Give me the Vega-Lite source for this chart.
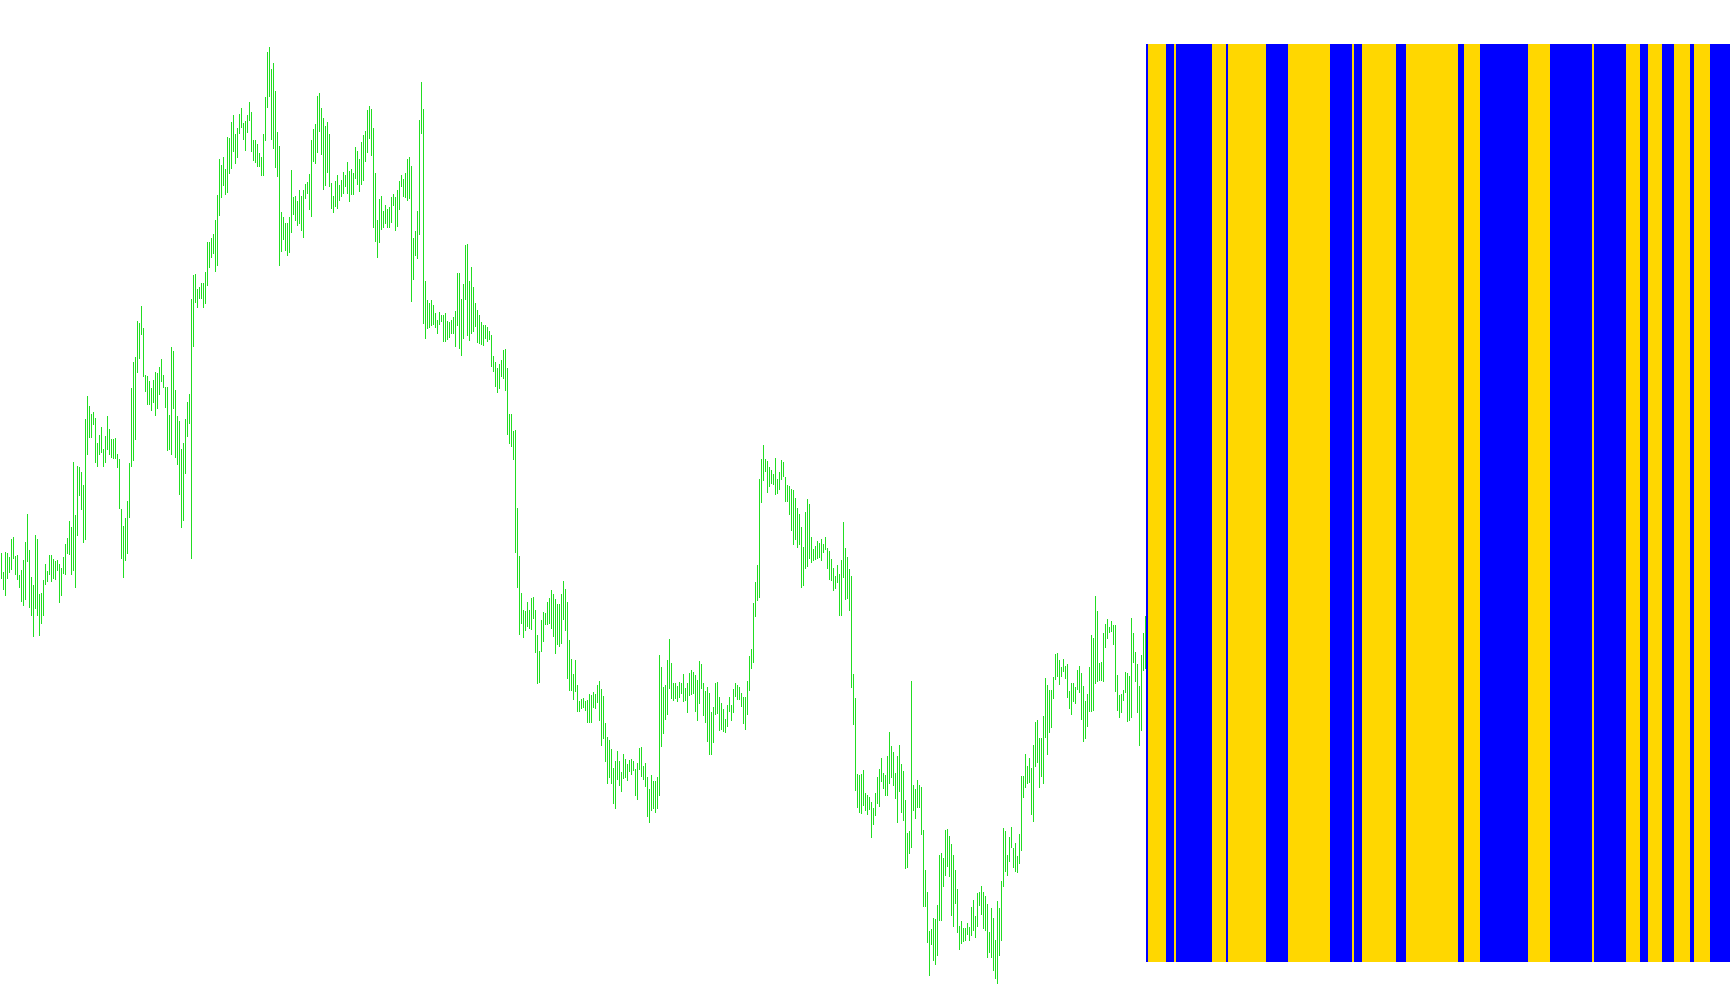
{
"$schema": "https://vega.github.io/schema/vega-lite/v6.json",
"width": 1730, "height": 1005, "padding": 0, "autosize": {"type": "none"},
"background": "white",
"config": {"view": {"stroke": null}},
"resolve": {"scale": {"x": "independent"}},
"datasets": {
"bars": [
{"i":0,"h":1.0452,"l":1.0426},{"i":1,"h":1.0433,"l":1.0415},{"i":2,"h":1.0453,"l":1.0409},{"i":3,"h":1.0452,"l":1.0426},{"i":4,"h":1.0448,"l":1.0432},{"i":5,"h":1.0466,"l":1.0435},{"i":6,"h":1.0468,"l":1.0446},{"i":7,"h":1.0449,"l":1.0430},{"i":8,"h":1.0450,"l":1.0425},{"i":9,"h":1.0430,"l":1.0417},
{"i":10,"h":1.0435,"l":1.0403},{"i":11,"h":1.0445,"l":1.0399},{"i":12,"h":1.0463,"l":1.0405},{"i":13,"h":1.0491,"l":1.0443},{"i":14,"h":1.0455,"l":1.0397},{"i":15,"h":1.0428,"l":1.0389},{"i":16,"h":1.0420,"l":1.0368},{"i":17,"h":1.0470,"l":1.0396},{"i":18,"h":1.0466,"l":1.0389},{"i":19,"h":1.0411,"l":1.0369},
{"i":20,"h":1.0412,"l":1.0381},{"i":21,"h":1.0425,"l":1.0389},{"i":22,"h":1.0441,"l":1.0420},{"i":23,"h":1.0434,"l":1.0423},{"i":24,"h":1.0450,"l":1.0430},{"i":25,"h":1.0450,"l":1.0423},{"i":26,"h":1.0446,"l":1.0426},{"i":27,"h":1.0444,"l":1.0425},{"i":28,"h":1.0445,"l":1.0434},{"i":29,"h":1.0441,"l":1.0402},
{"i":30,"h":1.0437,"l":1.0409},{"i":31,"h":1.0448,"l":1.0431},{"i":32,"h":1.0461,"l":1.0430},{"i":33,"h":1.0467,"l":1.0451},{"i":34,"h":1.0484,"l":1.0450},{"i":35,"h":1.0478,"l":1.0430},{"i":36,"h":1.0543,"l":1.0434},{"i":37,"h":1.0490,"l":1.0417},{"i":38,"h":1.0539,"l":1.0469},{"i":39,"h":1.0538,"l":1.0509},
{"i":40,"h":1.0533,"l":1.0495},{"i":41,"h":1.0520,"l":1.0462},{"i":42,"h":1.0586,"l":1.0465},{"i":43,"h":1.0609,"l":1.0550},{"i":44,"h":1.0599,"l":1.0567},{"i":45,"h":1.0591,"l":1.0567},{"i":46,"h":1.0593,"l":1.0580},{"i":47,"h":1.0587,"l":1.0542},{"i":48,"h":1.0562,"l":1.0538},{"i":49,"h":1.0570,"l":1.0550},
{"i":50,"h":1.0578,"l":1.0552},{"i":51,"h":1.0556,"l":1.0538},{"i":52,"h":1.0569,"l":1.0542},{"i":53,"h":1.0589,"l":1.0555},{"i":54,"h":1.0576,"l":1.0550},{"i":55,"h":1.0566,"l":1.0547},{"i":56,"h":1.0566,"l":1.0546},{"i":57,"h":1.0567,"l":1.0546},{"i":58,"h":1.0551,"l":1.0537},{"i":59,"h":1.0546,"l":1.0496},
{"i":60,"h":1.0496,"l":1.0446},{"i":61,"h":1.0479,"l":1.0427},{"i":62,"h":1.0487,"l":1.0444},{"i":63,"h":1.0504,"l":1.0451},{"i":64,"h":1.0542,"l":1.0487},{"i":65,"h":1.0617,"l":1.0538},{"i":66,"h":1.0643,"l":1.0544},{"i":67,"h":1.0648,"l":1.0565},{"i":68,"h":1.0684,"l":1.0632},{"i":69,"h":1.0682,"l":1.0646},
{"i":70,"h":1.0699,"l":1.0670},{"i":71,"h":1.0677,"l":1.0628},{"i":72,"h":1.0630,"l":1.0613},{"i":73,"h":1.0629,"l":1.0600},{"i":74,"h":1.0624,"l":1.0600},{"i":75,"h":1.0617,"l":1.0594},{"i":76,"h":1.0625,"l":1.0602},{"i":77,"h":1.0633,"l":1.0589},{"i":78,"h":1.0632,"l":1.0596},{"i":79,"h":1.0638,"l":1.0610},
{"i":80,"h":1.0646,"l":1.0623},{"i":81,"h":1.0630,"l":1.0617},{"i":82,"h":1.0618,"l":1.0597},{"i":83,"h":1.0618,"l":1.0554},{"i":84,"h":1.0590,"l":1.0555},{"i":85,"h":1.0658,"l":1.0550},{"i":86,"h":1.0654,"l":1.0596},{"i":87,"h":1.0615,"l":1.0547},{"i":88,"h":1.0589,"l":1.0540},{"i":89,"h":1.0584,"l":1.0510},
{"i":90,"h":1.0556,"l":1.0477},{"i":91,"h":1.0562,"l":1.0484},{"i":92,"h":1.0586,"l":1.0531},{"i":93,"h":1.0603,"l":1.0568},{"i":94,"h":1.0611,"l":1.0581},{"i":95,"h":1.0706,"l":1.0446},{"i":96,"h":1.0730,"l":1.0658},{"i":97,"h":1.0731,"l":1.0702},{"i":98,"h":1.0716,"l":1.0697},{"i":99,"h":1.0718,"l":1.0706},
{"i":100,"h":1.0722,"l":1.0706},{"i":101,"h":1.0722,"l":1.0697},{"i":102,"h":1.0733,"l":1.0701},{"i":103,"h":1.0763,"l":1.0719},{"i":104,"h":1.0763,"l":1.0737},{"i":105,"h":1.0767,"l":1.0747},{"i":106,"h":1.0771,"l":1.0751},{"i":107,"h":1.0785,"l":1.0733},{"i":108,"h":1.0810,"l":1.0739},{"i":109,"h":1.0846,"l":1.0789},
{"i":110,"h":1.0840,"l":1.0807},{"i":111,"h":1.0848,"l":1.0819},{"i":112,"h":1.0836,"l":1.0810},{"i":113,"h":1.0868,"l":1.0812},{"i":114,"h":1.0867,"l":1.0831},{"i":115,"h":1.0883,"l":1.0836},{"i":116,"h":1.0890,"l":1.0853},{"i":117,"h":1.0871,"l":1.0841},{"i":118,"h":1.0877,"l":1.0847},{"i":119,"h":1.0891,"l":1.0871},
{"i":120,"h":1.0897,"l":1.0877},{"i":121,"h":1.0882,"l":1.0865},{"i":122,"h":1.0884,"l":1.0854},{"i":123,"h":1.0890,"l":1.0872},{"i":124,"h":1.0903,"l":1.0884},{"i":125,"h":1.0893,"l":1.0853},{"i":126,"h":1.0865,"l":1.0844},{"i":127,"h":1.0865,"l":1.0842},{"i":128,"h":1.0861,"l":1.0838},{"i":129,"h":1.0852,"l":1.0838},
{"i":130,"h":1.0848,"l":1.0829},{"i":131,"h":1.0871,"l":1.0829},{"i":132,"h":1.0908,"l":1.0864},{"i":133,"h":1.0953,"l":1.0897},{"i":134,"h":1.0958,"l":1.0908},{"i":135,"h":1.0936,"l":1.0865},{"i":136,"h":1.0942,"l":1.0856},{"i":137,"h":1.0914,"l":1.0837},{"i":138,"h":1.0873,"l":1.0828},{"i":139,"h":1.0859,"l":1.0739},
{"i":140,"h":1.0793,"l":1.0753},{"i":141,"h":1.0788,"l":1.0765},{"i":142,"h":1.0782,"l":1.0754},{"i":143,"h":1.0782,"l":1.0749},{"i":144,"h":1.0788,"l":1.0752},{"i":145,"h":1.0835,"l":1.0772},{"i":146,"h":1.0808,"l":1.0790},{"i":147,"h":1.0809,"l":1.0784},{"i":148,"h":1.0804,"l":1.0779},{"i":149,"h":1.0815,"l":1.0781},
{"i":150,"h":1.0809,"l":1.0774},{"i":151,"h":1.0815,"l":1.0767},{"i":152,"h":1.0821,"l":1.0806},{"i":153,"h":1.0823,"l":1.0811},{"i":154,"h":1.0831,"l":1.0795},{"i":155,"h":1.0865,"l":1.0788},{"i":156,"h":1.0876,"l":1.0843},{"i":157,"h":1.0881,"l":1.0841},{"i":158,"h":1.0909,"l":1.0852},{"i":159,"h":1.0912,"l":1.0873},
{"i":160,"h":1.0897,"l":1.0850},{"i":161,"h":1.0887,"l":1.0815},{"i":162,"h":1.0879,"l":1.0819},{"i":163,"h":1.0883,"l":1.0832},{"i":164,"h":1.0871,"l":1.0818},{"i":165,"h":1.0822,"l":1.0796},{"i":166,"h":1.0809,"l":1.0792},{"i":167,"h":1.0824,"l":1.0798},{"i":168,"h":1.0830,"l":1.0796},{"i":169,"h":1.0820,"l":1.0804},
{"i":170,"h":1.0825,"l":1.0808},{"i":171,"h":1.0833,"l":1.0811},{"i":172,"h":1.0830,"l":1.0818},{"i":173,"h":1.0843,"l":1.0811},{"i":174,"h":1.0834,"l":1.0803},{"i":175,"h":1.0836,"l":1.0810},{"i":176,"h":1.0832,"l":1.0810},{"i":177,"h":1.0858,"l":1.0826},{"i":178,"h":1.0854,"l":1.0820},{"i":179,"h":1.0846,"l":1.0813},
{"i":180,"h":1.0863,"l":1.0820},{"i":181,"h":1.0870,"l":1.0824},{"i":182,"h":1.0874,"l":1.0843},{"i":183,"h":1.0895,"l":1.0852},{"i":184,"h":1.0899,"l":1.0866},{"i":185,"h":1.0896,"l":1.0849},{"i":186,"h":1.0877,"l":1.0777},{"i":187,"h":1.0832,"l":1.0763},{"i":188,"h":1.0785,"l":1.0747},{"i":189,"h":1.0806,"l":1.0762},
{"i":190,"h":1.0809,"l":1.0775},{"i":191,"h":1.0794,"l":1.0777},{"i":192,"h":1.0800,"l":1.0781},{"i":193,"h":1.0796,"l":1.0777},{"i":194,"h":1.0798,"l":1.0777},{"i":195,"h":1.0808,"l":1.0782},{"i":196,"h":1.0811,"l":1.0799},{"i":197,"h":1.0808,"l":1.0774},{"i":198,"h":1.0815,"l":1.0778},{"i":199,"h":1.0824,"l":1.0795},
{"i":200,"h":1.0830,"l":1.0818},{"i":201,"h":1.0826,"l":1.0808},{"i":202,"h":1.0832,"l":1.0807},{"i":203,"h":1.0846,"l":1.0804},{"i":204,"h":1.0848,"l":1.0806},{"i":205,"h":1.0839,"l":1.0703},{"i":206,"h":1.0767,"l":1.0725},{"i":207,"h":1.0774,"l":1.0749},{"i":208,"h":1.0794,"l":1.0746},{"i":209,"h":1.0885,"l":1.0770},
{"i":210,"h":1.0923,"l":1.0871},{"i":211,"h":1.0896,"l":1.0681},{"i":212,"h":1.0724,"l":1.0666},{"i":213,"h":1.0705,"l":1.0676},{"i":214,"h":1.0702,"l":1.0677},{"i":215,"h":1.0705,"l":1.0679},{"i":216,"h":1.0700,"l":1.0680},{"i":217,"h":1.0692,"l":1.0677},{"i":218,"h":1.0685,"l":1.0671},{"i":219,"h":1.0693,"l":1.0680},
{"i":220,"h":1.0690,"l":1.0683},{"i":221,"h":1.0690,"l":1.0663},{"i":222,"h":1.0692,"l":1.0663},{"i":223,"h":1.0684,"l":1.0665},{"i":224,"h":1.0683,"l":1.0667},{"i":225,"h":1.0685,"l":1.0671},{"i":226,"h":1.0688,"l":1.0671},{"i":227,"h":1.0694,"l":1.0658},{"i":228,"h":1.0732,"l":1.0679},{"i":229,"h":1.0732,"l":1.0656},
{"i":230,"h":1.0706,"l":1.0649},{"i":231,"h":1.0721,"l":1.0666},{"i":232,"h":1.0760,"l":1.0705},{"i":233,"h":1.0761,"l":1.0669},{"i":234,"h":1.0724,"l":1.0664},{"i":235,"h":1.0738,"l":1.0671},{"i":236,"h":1.0718,"l":1.0673},{"i":237,"h":1.0702,"l":1.0678},{"i":238,"h":1.0695,"l":1.0662},{"i":239,"h":1.0690,"l":1.0661},
{"i":240,"h":1.0683,"l":1.0660},{"i":241,"h":1.0680,"l":1.0659},{"i":242,"h":1.0680,"l":1.0666},{"i":243,"h":1.0678,"l":1.0663},{"i":244,"h":1.0674,"l":1.0665},{"i":245,"h":1.0670,"l":1.0638},{"i":246,"h":1.0649,"l":1.0633},{"i":247,"h":1.0643,"l":1.0618},{"i":248,"h":1.0637,"l":1.0612},{"i":249,"h":1.0641,"l":1.0616},
{"i":250,"h":1.0645,"l":1.0628},{"i":251,"h":1.0655,"l":1.0626},{"i":252,"h":1.0656,"l":1.0614},{"i":253,"h":1.0637,"l":1.0570},{"i":254,"h":1.0591,"l":1.0561},{"i":255,"h":1.0591,"l":1.0558},{"i":256,"h":1.0574,"l":1.0545},{"i":257,"h":1.0575,"l":1.0452},{"i":258,"h":1.0497,"l":1.0417},{"i":259,"h":1.0449,"l":1.0370},
{"i":260,"h":1.0412,"l":1.0381},{"i":261,"h":1.0395,"l":1.0367},{"i":262,"h":1.0394,"l":1.0374},{"i":263,"h":1.0403,"l":1.0378},{"i":264,"h":1.0395,"l":1.0376},{"i":265,"h":1.0407,"l":1.0375},{"i":266,"h":1.0408,"l":1.0386},{"i":267,"h":1.0395,"l":1.0352},{"i":268,"h":1.0370,"l":1.0321},{"i":269,"h":1.0354,"l":1.0322},
{"i":270,"h":1.0385,"l":1.0353},{"i":271,"h":1.0393,"l":1.0363},{"i":272,"h":1.0392,"l":1.0380},{"i":273,"h":1.0403,"l":1.0380},{"i":274,"h":1.0407,"l":1.0381},{"i":275,"h":1.0415,"l":1.0376},{"i":276,"h":1.0411,"l":1.0368},{"i":277,"h":1.0406,"l":1.0351},{"i":278,"h":1.0401,"l":1.0360},{"i":279,"h":1.0401,"l":1.0358},
{"i":280,"h":1.0411,"l":1.0361},{"i":281,"h":1.0424,"l":1.0385},{"i":282,"h":1.0416,"l":1.0374},{"i":283,"h":1.0403,"l":1.0326},{"i":284,"h":1.0365,"l":1.0314},{"i":285,"h":1.0346,"l":1.0314},{"i":286,"h":1.0331,"l":1.0305},{"i":287,"h":1.0345,"l":1.0313},{"i":288,"h":1.0320,"l":1.0293},{"i":289,"h":1.0304,"l":1.0293},
{"i":290,"h":1.0306,"l":1.0296},{"i":291,"h":1.0307,"l":1.0297},{"i":292,"h":1.0304,"l":1.0294},{"i":293,"h":1.0305,"l":1.0282},{"i":294,"h":1.0311,"l":1.0282},{"i":295,"h":1.0310,"l":1.0282},{"i":296,"h":1.0313,"l":1.0297},{"i":297,"h":1.0311,"l":1.0296},{"i":298,"h":1.0320,"l":1.0302},{"i":299,"h":1.0324,"l":1.0284},
{"i":300,"h":1.0316,"l":1.0259},{"i":301,"h":1.0309,"l":1.0266},{"i":302,"h":1.0282,"l":1.0243},{"i":303,"h":1.0268,"l":1.0221},{"i":304,"h":1.0265,"l":1.0227},{"i":305,"h":1.0256,"l":1.0221},{"i":306,"h":1.0237,"l":1.0201},{"i":307,"h":1.0244,"l":1.0196},{"i":308,"h":1.0254,"l":1.0225},{"i":309,"h":1.0244,"l":1.0219},
{"i":310,"h":1.0233,"l":1.0213},{"i":311,"h":1.0251,"l":1.0226},{"i":312,"h":1.0246,"l":1.0227},{"i":313,"h":1.0241,"l":1.0224},{"i":314,"h":1.0245,"l":1.0233},{"i":315,"h":1.0246,"l":1.0230},{"i":316,"h":1.0244,"l":1.0234},{"i":317,"h":1.0236,"l":1.0209},{"i":318,"h":1.0242,"l":1.0205},{"i":319,"h":1.0257,"l":1.0235},
{"i":320,"h":1.0258,"l":1.0228},{"i":321,"h":1.0239,"l":1.0225},{"i":322,"h":1.0242,"l":1.0218},{"i":323,"h":1.0228,"l":1.0188},{"i":324,"h":1.0216,"l":1.0182},{"i":325,"h":1.0230,"l":1.0194},{"i":326,"h":1.0224,"l":1.0196},{"i":327,"h":1.0224,"l":1.0192},{"i":328,"h":1.0228,"l":1.0196},{"i":329,"h":1.0350,"l":1.0209},
{"i":330,"h":1.0338,"l":1.0258},{"i":331,"h":1.0318,"l":1.0271},{"i":332,"h":1.0320,"l":1.0285},{"i":333,"h":1.0345,"l":1.0290},{"i":334,"h":1.0366,"l":1.0316},{"i":335,"h":1.0342,"l":1.0306},{"i":336,"h":1.0322,"l":1.0304},{"i":337,"h":1.0322,"l":1.0306},{"i":338,"h":1.0319,"l":1.0303},{"i":339,"h":1.0323,"l":1.0307},
{"i":340,"h":1.0322,"l":1.0311},{"i":341,"h":1.0331,"l":1.0303},{"i":342,"h":1.0317,"l":1.0304},{"i":343,"h":1.0322,"l":1.0292},{"i":344,"h":1.0332,"l":1.0309},{"i":345,"h":1.0335,"l":1.0310},{"i":346,"h":1.0333,"l":1.0311},{"i":347,"h":1.0330,"l":1.0293},{"i":348,"h":1.0325,"l":1.0284},{"i":349,"h":1.0344,"l":1.0301},
{"i":350,"h":1.0341,"l":1.0316},{"i":351,"h":1.0322,"l":1.0289},{"i":352,"h":1.0314,"l":1.0282},{"i":353,"h":1.0318,"l":1.0263},{"i":354,"h":1.0312,"l":1.0250},{"i":355,"h":1.0293,"l":1.0250},{"i":356,"h":1.0298,"l":1.0262},{"i":357,"h":1.0322,"l":1.0290},{"i":358,"h":1.0323,"l":1.0291},{"i":359,"h":1.0308,"l":1.0274},
{"i":360,"h":1.0302,"l":1.0275},{"i":361,"h":1.0296,"l":1.0273},{"i":362,"h":1.0286,"l":1.0272},{"i":363,"h":1.0300,"l":1.0278},{"i":364,"h":1.0308,"l":1.0293},{"i":365,"h":1.0300,"l":1.0284},{"i":366,"h":1.0316,"l":1.0292},{"i":367,"h":1.0322,"l":1.0308},{"i":368,"h":1.0320,"l":1.0305},{"i":369,"h":1.0318,"l":1.0305},
{"i":370,"h":1.0312,"l":1.0298},{"i":371,"h":1.0308,"l":1.0281},{"i":372,"h":1.0308,"l":1.0275},{"i":373,"h":1.0324,"l":1.0290},{"i":374,"h":1.0349,"l":1.0314},{"i":375,"h":1.0356,"l":1.0336},{"i":376,"h":1.0402,"l":1.0342},{"i":377,"h":1.0423,"l":1.0388},{"i":378,"h":1.0440,"l":1.0404},{"i":379,"h":1.0526,"l":1.0407},
{"i":380,"h":1.0546,"l":1.0502},{"i":381,"h":1.0560,"l":1.0524},{"i":382,"h":1.0546,"l":1.0533},{"i":383,"h":1.0544,"l":1.0512},{"i":384,"h":1.0538,"l":1.0518},{"i":385,"h":1.0535,"l":1.0521},{"i":386,"h":1.0531,"l":1.0520},{"i":387,"h":1.0547,"l":1.0510},{"i":388,"h":1.0526,"l":1.0511},{"i":389,"h":1.0533,"l":1.0515},
{"i":390,"h":1.0545,"l":1.0525},{"i":391,"h":1.0543,"l":1.0528},{"i":392,"h":1.0528,"l":1.0503},{"i":393,"h":1.0520,"l":1.0503},{"i":394,"h":1.0519,"l":1.0490},{"i":395,"h":1.0516,"l":1.0474},{"i":396,"h":1.0515,"l":1.0460},{"i":397,"h":1.0507,"l":1.0465},{"i":398,"h":1.0497,"l":1.0457},{"i":399,"h":1.0491,"l":1.0460},
{"i":400,"h":1.0478,"l":1.0417},{"i":401,"h":1.0458,"l":1.0419},{"i":402,"h":1.0493,"l":1.0436},{"i":403,"h":1.0506,"l":1.0438},{"i":404,"h":1.0501,"l":1.0446},{"i":405,"h":1.0468,"l":1.0442},{"i":406,"h":1.0456,"l":1.0444},{"i":407,"h":1.0459,"l":1.0445},{"i":408,"h":1.0464,"l":1.0446},{"i":409,"h":1.0462,"l":1.0447},
{"i":410,"h":1.0466,"l":1.0444},{"i":411,"h":1.0461,"l":1.0452},{"i":412,"h":1.0468,"l":1.0455},{"i":413,"h":1.0457,"l":1.0436},{"i":414,"h":1.0454,"l":1.0425},{"i":415,"h":1.0446,"l":1.0424},{"i":416,"h":1.0437,"l":1.0414},{"i":417,"h":1.0429,"l":1.0416},{"i":418,"h":1.0440,"l":1.0422},{"i":419,"h":1.0431,"l":1.0389},
{"i":420,"h":1.0445,"l":1.0389},{"i":421,"h":1.0483,"l":1.0427},{"i":422,"h":1.0457,"l":1.0405},{"i":423,"h":1.0448,"l":1.0406},{"i":424,"h":1.0436,"l":1.0394},{"i":425,"h":1.0429,"l":1.0317},{"i":426,"h":1.0331,"l":1.0280},{"i":427,"h":1.0307,"l":1.0214},{"i":428,"h":1.0231,"l":1.0197},{"i":429,"h":1.0230,"l":1.0192},
{"i":430,"h":1.0231,"l":1.0191},{"i":431,"h":1.0235,"l":1.0199},{"i":432,"h":1.0212,"l":1.0194},{"i":433,"h":1.0210,"l":1.0190},{"i":434,"h":1.0208,"l":1.0195},{"i":435,"h":1.0203,"l":1.0167},{"i":436,"h":1.0197,"l":1.0180},{"i":437,"h":1.0212,"l":1.0189},{"i":438,"h":1.0228,"l":1.0201},{"i":439,"h":1.0236,"l":1.0198},
{"i":440,"h":1.0247,"l":1.0223},{"i":441,"h":1.0232,"l":1.0216},{"i":442,"h":1.0230,"l":1.0209},{"i":443,"h":1.0249,"l":1.0209},{"i":444,"h":1.0273,"l":1.0221},{"i":445,"h":1.0259,"l":1.0227},{"i":446,"h":1.0253,"l":1.0219},{"i":447,"h":1.0232,"l":1.0206},{"i":448,"h":1.0249,"l":1.0182},{"i":449,"h":1.0260,"l":1.0213},
{"i":450,"h":1.0241,"l":1.0192},{"i":451,"h":1.0234,"l":1.0184},{"i":452,"h":1.0205,"l":1.0136},{"i":453,"h":1.0172,"l":1.0137},{"i":454,"h":1.0174,"l":1.0151},{"i":455,"h":1.0324,"l":1.0157},{"i":456,"h":1.0220,"l":1.0194},{"i":457,"h":1.0216,"l":1.0186},{"i":458,"h":1.0225,"l":1.0197},{"i":459,"h":1.0220,"l":1.0197},
{"i":460,"h":1.0218,"l":1.0170},{"i":461,"h":1.0175,"l":1.0098},{"i":462,"h":1.0135,"l":1.0098},{"i":463,"h":1.0113,"l":1.0062},{"i":464,"h":1.0074,"l":1.0029},{"i":465,"h":1.0076,"l":1.0060},{"i":466,"h":1.0087,"l":1.0044},{"i":467,"h":1.0086,"l":1.0040},{"i":468,"h":1.0100,"l":1.0049},{"i":469,"h":1.0150,"l":1.0084},
{"i":470,"h":1.0152,"l":1.0084},{"i":471,"h":1.0147,"l":1.0118},{"i":472,"h":1.0175,"l":1.0129},{"i":473,"h":1.0176,"l":1.0138},{"i":474,"h":1.0169,"l":1.0128},{"i":475,"h":1.0161,"l":1.0089},{"i":476,"h":1.0150,"l":1.0078},{"i":477,"h":1.0135,"l":1.0101},{"i":478,"h":1.0116,"l":1.0072},{"i":479,"h":1.0079,"l":1.0055},
{"i":480,"h":1.0084,"l":1.0061},{"i":481,"h":1.0077,"l":1.0063},{"i":482,"h":1.0077,"l":1.0064},{"i":483,"h":1.0082,"l":1.0070},{"i":484,"h":1.0078,"l":1.0064},{"i":485,"h":1.0098,"l":1.0069},{"i":486,"h":1.0105,"l":1.0074},{"i":487,"h":1.0089,"l":1.0067},{"i":488,"h":1.0112,"l":1.0078},{"i":489,"h":1.0113,"l":1.0099},
{"i":490,"h":1.0119,"l":1.0090},{"i":491,"h":1.0113,"l":1.0076},{"i":492,"h":1.0109,"l":1.0074},{"i":493,"h":1.0101,"l":1.0047},{"i":494,"h":1.0073,"l":1.0052},{"i":495,"h":1.0097,"l":1.0047},{"i":496,"h":1.0087,"l":1.0034},{"i":497,"h":1.0065,"l":1.0026},{"i":498,"h":1.0104,"l":1.0021},{"i":499,"h":1.0097,"l":1.0049},
{"i":500,"h":1.0124,"l":1.0064},{"i":501,"h":1.0177,"l":1.0118},{"i":502,"h":1.0174,"l":1.0133},{"i":503,"h":1.0150,"l":1.0129},{"i":504,"h":1.0168,"l":1.0143},{"i":505,"h":1.0178,"l":1.0157},{"i":506,"h":1.0157,"l":1.0137},{"i":507,"h":1.0162,"l":1.0133},{"i":508,"h":1.0149,"l":1.0132},{"i":509,"h":1.0171,"l":1.0141},
{"i":510,"h":1.0229,"l":1.0154},{"i":511,"h":1.0229,"l":1.0207},{"i":512,"h":1.0251,"l":1.0217},{"i":513,"h":1.0239,"l":1.0221},{"i":514,"h":1.0247,"l":1.0222},{"i":515,"h":1.0237,"l":1.0190},{"i":516,"h":1.0260,"l":1.0183},{"i":517,"h":1.0283,"l":1.0238},{"i":518,"h":1.0285,"l":1.0242},{"i":519,"h":1.0267,"l":1.0217},
{"i":520,"h":1.0267,"l":1.0228},{"i":521,"h":1.0289,"l":1.0221},{"i":522,"h":1.0327,"l":1.0267},{"i":523,"h":1.0320,"l":1.0250},{"i":524,"h":1.0315,"l":1.0272},{"i":525,"h":1.0315,"l":1.0277},{"i":526,"h":1.0328,"l":1.0306},{"i":527,"h":1.0351,"l":1.0325},{"i":528,"h":1.0352,"l":1.0328},{"i":529,"h":1.0345,"l":1.0320},
{"i":530,"h":1.0338,"l":1.0328},{"i":531,"h":1.0346,"l":1.0333},{"i":532,"h":1.0339,"l":1.0326},{"i":533,"h":1.0341,"l":1.0307},{"i":534,"h":1.0314,"l":1.0296},{"i":535,"h":1.0322,"l":1.0290},{"i":536,"h":1.0322,"l":1.0303},{"i":537,"h":1.0318,"l":1.0301},{"i":538,"h":1.0335,"l":1.0315},{"i":539,"h":1.0339,"l":1.0312},
{"i":540,"h":1.0332,"l":1.0285},{"i":541,"h":1.0319,"l":1.0263},{"i":542,"h":1.0304,"l":1.0266},{"i":543,"h":1.0311,"l":1.0278},{"i":544,"h":1.0338,"l":1.0293},{"i":545,"h":1.0370,"l":1.0293},{"i":546,"h":1.0367,"l":1.0294},{"i":547,"h":1.0409,"l":1.0321},{"i":548,"h":1.0394,"l":1.0323},{"i":549,"h":1.0342,"l":1.0324},
{"i":550,"h":1.0343,"l":1.0324},{"i":551,"h":1.0372,"l":1.0323},{"i":552,"h":1.0381,"l":1.0357},{"i":553,"h":1.0386,"l":1.0366},{"i":554,"h":1.0378,"l":1.0372},{"i":555,"h":1.0384,"l":1.0373},{"i":556,"h":1.0380,"l":1.0360},{"i":557,"h":1.0380,"l":1.0313},{"i":558,"h":1.0330,"l":1.0294},{"i":559,"h":1.0310,"l":1.0287},
{"i":560,"h":1.0311,"l":1.0292},{"i":561,"h":1.0315,"l":1.0304},{"i":562,"h":1.0333,"l":1.0312},{"i":563,"h":1.0332,"l":1.0283},{"i":564,"h":1.0329,"l":1.0284},{"i":565,"h":1.0387,"l":1.0287},{"i":566,"h":1.0372,"l":1.0342},{"i":567,"h":1.0353,"l":1.0323},{"i":568,"h":1.0341,"l":1.0292},{"i":569,"h":1.0319,"l":1.0259},
{"i":570,"h":1.0350,"l":1.0274},{"i":571,"h":1.0372,"l":1.0334},{"i":572,"h":1.0389,"l":1.0336}
],
"bands": [
{"s":573,"e":574,"c":"blue"},{"s":574,"e":583,"c":"gold"},{"s":583,"e":587,"c":"blue"},{"s":587,"e":588,"c":"gold"},
{"s":588,"e":606,"c":"blue"},{"s":606,"e":613,"c":"gold"},{"s":613,"e":614,"c":"blue"},{"s":614,"e":633,"c":"gold"},
{"s":633,"e":644,"c":"blue"},{"s":644,"e":665,"c":"gold"},{"s":665,"e":676,"c":"blue"},{"s":676,"e":677,"c":"gold"},
{"s":677,"e":681,"c":"blue"},{"s":681,"e":698,"c":"gold"},{"s":698,"e":703,"c":"blue"},{"s":703,"e":729,"c":"gold"},
{"s":729,"e":732,"c":"blue"},{"s":732,"e":740,"c":"gold"},{"s":740,"e":764,"c":"blue"},{"s":764,"e":775,"c":"gold"},
{"s":775,"e":796,"c":"blue"},{"s":796,"e":797,"c":"gold"},{"s":797,"e":813,"c":"blue"},{"s":813,"e":820,"c":"gold"},
{"s":820,"e":824,"c":"blue"},{"s":824,"e":831,"c":"gold"},{"s":831,"e":837,"c":"blue"},{"s":837,"e":845,"c":"gold"},
{"s":845,"e":847,"c":"blue"},{"s":847,"e":855,"c":"gold"},{"s":855,"e":865,"c":"blue"}
]
},
"layer": [
{
"data": {"name": "bands"},
"mark": {"type": "rect", "strokeWidth": 0},
"encoding": {
"x": {"field": "s", "type": "quantitative", "scale": {"domain": [0, 865], "nice": false, "zero": false}, "axis": null},
"x2": {"field": "e"},
"y": {"datum": 1.0961, "type": "quantitative", "scale": {"domain": [1.0, 1.1005], "nice": false, "zero": false}, "axis": null},
"y2": {"datum": 1.0043},
"color": {"field": "c", "type": "nominal", "scale": {"domain": ["blue", "gold"], "range": ["#0000FF", "#FFD700"]}, "legend": null}
}
},
{
"data": {"name": "bars"},
"mark": {"type": "rule", "color": "#22DD22", "strokeWidth": 1},
"encoding": {
"x": {"field": "i", "type": "quantitative", "scale": {"domain": [-0.75, 864.25], "nice": false, "zero": false}, "axis": null},
"y": {"field": "h", "type": "quantitative", "axis": null},
"y2": {"field": "l"}
}
}
]
}
